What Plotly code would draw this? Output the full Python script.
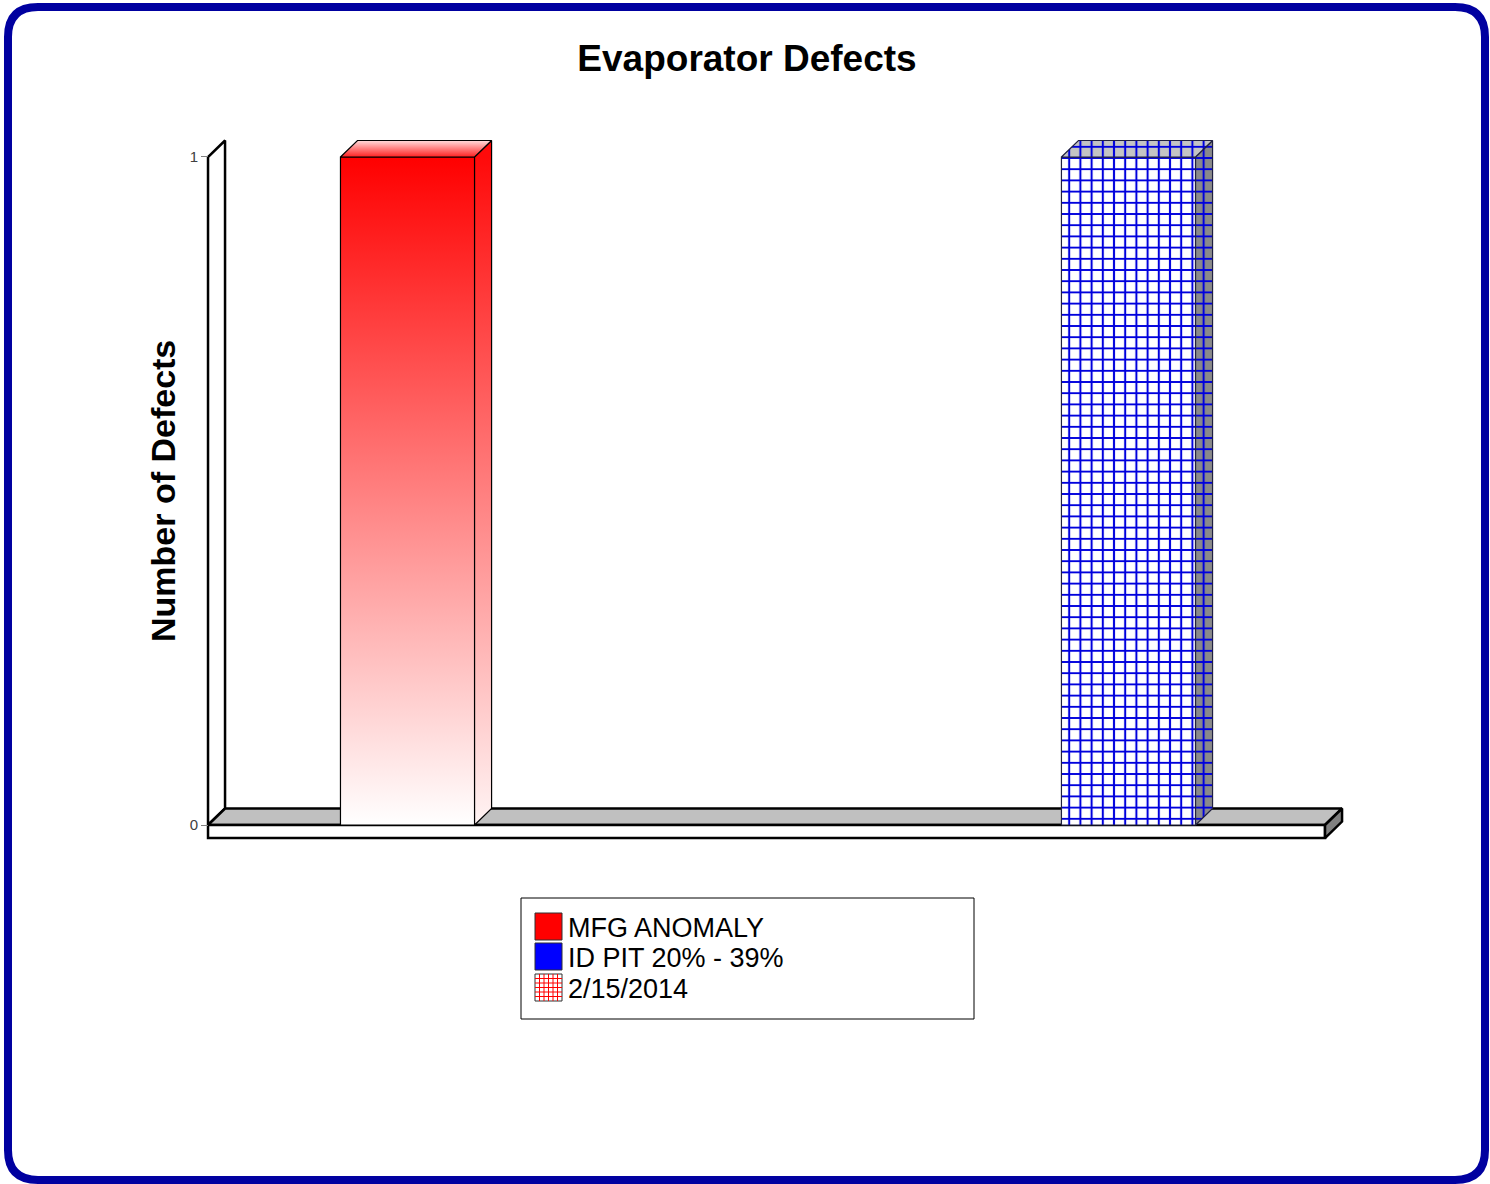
import plotly.graph_objects as go

# ---------------- data ----------------
CATEGORIES = ["MFG ANOMALY", "ID PIT 20% - 39%"]
DEFECTS = [1, 1]
DATE_LABEL = "2/15/2014"
Y_TICKS = [0, 1]
LEGEND_LABELS = ["MFG ANOMALY", "ID PIT 20% - 39%", DATE_LABEL]
TITLE = "Evaporator Defects"
Y_TITLE = "Number of Defects"

# ---------------- style / layout ----------------
W, H = 1490, 1184
ML, MR, MT, MB = 190, 130, 130, 334
PW, PH = W - ML - MR, H - MT - MB
XRANGE = [-0.3017, 1.3211]
YRANGE = [-0.0374, 1.0404]
FLOOR_X = [-0.2767, 1.2726]
DX, DY = 0.0236, 0.0247       # 3-D depth offsets in axis units
SLAB = 0.0195                 # floor thickness
BAR_W = 0.186
FONT = "Liberation Sans"


def pxx(px):
    return (px - ML) / PW


def pxy(py):
    return (H - MB - py) / PH


fig = go.Figure()


def poly(xs, ys, **kw):
    fig.add_trace(go.Scatter(x=list(xs) + [xs[0]], y=list(ys) + [ys[0]], mode="lines",
                             fill="toself", showlegend=False, hoverinfo="skip", **kw))


x0, x1 = FLOOR_X
top = max(Y_TICKS)
edge = dict(color="black", width=2.5)
# left wall
poly([x0, x0, x0 + DX, x0 + DX], [0, top, top + DY, DY], fillcolor="white", line=edge)
# floor top
poly([x0, x0 + DX, x1 + DX, x1], [0, DY, DY, 0], fillcolor="#c0c0c0", line=edge)
# floor front slab
poly([x0, x1, x1, x0], [0, 0, -SLAB, -SLAB], fillcolor="white", line=edge)
# floor right end
poly([x1, x1 + DX, x1 + DX, x1], [0, DY, DY - SLAB, -SLAB], fillcolor="#808080", line=edge)

# bars
for i, (cat, v) in enumerate(zip(CATEGORIES, DEFECTS)):
    xl, xr = i - BAR_W / 2, i + BAR_W / 2
    front = ([xl, xr, xr, xl], [0, 0, v, v])
    side = ([xr, xr + DX, xr + DX, xr], [0, DY, v + DY, v])
    topf = ([xl, xr, xr + DX, xl + DX], [v, v, v + DY, v + DY])
    if i == 0:
        ln = dict(color="black", width=1.2)
        poly(*front, line=ln, name=cat,
             fillgradient=dict(type="vertical", start=0, stop=v,
                               colorscale=[[0, "#ffffff"], [1, "#ff0000"]]))
        poly(*side, line=ln,
             fillgradient=dict(type="vertical", start=0, stop=v,
                               colorscale=[[0, "#fff4f4"], [1, "#ff0a0a"]]))
        poly(*topf, line=ln,
             fillgradient=dict(type="vertical", start=v, stop=v + DY,
                               colorscale=[[0, "#ff2020"], [1, "#ffdcdc"]]))
    else:
        ln = dict(color="#202040", width=1.2)
        pat = dict(shape="+", fgcolor="#0000dd", fgopacity=1, size=11.2, solidity=0.33)
        poly(*front, line=ln, name=cat, fillcolor="white", fillpattern=dict(bgcolor="white", **pat))
        poly(*side, line=ln, fillcolor="#8a8a8a", fillpattern=dict(bgcolor="#8a8a8a", **pat))
        poly(*topf, line=ln, fillcolor="#c4c4c4", fillpattern=dict(bgcolor="#c4c4c4", **pat))

shapes = []
annotations = []

# rounded blue frame
bx0, by0, bx1, by1, r = 8, 7, 1485, 1180, 30
pts = [("M", bx0 + r, by0), ("L", bx1 - r, by0), ("Q", bx1, by0, bx1, by0 + r),
       ("L", bx1, by1 - r), ("Q", bx1, by1, bx1 - r, by1), ("L", bx0 + r, by1),
       ("Q", bx0, by1, bx0, by1 - r), ("L", bx0, by0 + r), ("Q", bx0, by0, bx0 + r, by0)]
path = ""
for p in pts:
    cmd, coords = p[0], p[1:]
    conv = []
    for k in range(0, len(coords), 2):
        conv.append(f"{pxx(coords[k]):.5f},{pxy(coords[k + 1]):.5f}")
    path += cmd + " ".join(conv) + " "
shapes.append(dict(type="path", xref="paper", yref="paper", path=path + "Z",
                   line=dict(color="#0000a0", width=8)))

# legend box
shapes.append(dict(type="rect", xref="paper", yref="paper", x0=pxx(521), x1=pxx(974),
                   y0=pxy(898), y1=pxy(1019), line=dict(color="black", width=1)))
sw_top = [913, 943, 974]
sw_fill = ["#ff0000", "#0000ff", "white"]
for k, (lab, ty, fc) in enumerate(zip(LEGEND_LABELS, sw_top, sw_fill)):
    shapes.append(dict(type="rect", xref="paper", yref="paper", x0=pxx(535), x1=pxx(562),
                       y0=pxy(ty), y1=pxy(ty + 27), fillcolor=fc,
                       line=dict(color="#303030", width=1)))
    if k == 2:
        for g in range(1, 6):
            gx = 535 + g * 4.5
            gy = ty + g * 4.5
            shapes.append(dict(type="line", xref="paper", yref="paper", x0=pxx(gx), x1=pxx(gx),
                               y0=pxy(ty), y1=pxy(ty + 27), line=dict(color="#ff0000", width=1)))
            shapes.append(dict(type="line", xref="paper", yref="paper", x0=pxx(535), x1=pxx(562),
                               y0=pxy(gy), y1=pxy(gy), line=dict(color="#ff0000", width=1)))
    annotations.append(dict(xref="paper", yref="paper", x=pxx(566), y=pxy(ty + 14.5),
                            xanchor="left", yanchor="middle", text=lab, showarrow=False,
                            font=dict(family=FONT, size=27, color="black")))

# y-axis title
annotations.append(dict(xref="paper", yref="paper", x=pxx(163), y=pxy(491), text=f"<b>{Y_TITLE}</b>",
                        textangle=-90, showarrow=False, xanchor="center", yanchor="middle",
                        font=dict(family=FONT, size=34, color="black")))

fig.update_layout(
    width=W, height=H, autosize=False,
    margin=dict(l=ML, r=MR, t=MT, b=MB),
    paper_bgcolor="white", plot_bgcolor="white",
    showlegend=False, hovermode=False,
    title=dict(text=f"<b>{TITLE}</b>", x=747 / W, xref="container", xanchor="center",
               y=1 - 58 / H, yref="container", yanchor="middle",
               font=dict(family=FONT, size=37, color="black")),
    xaxis=dict(range=XRANGE, visible=False, fixedrange=True),
    yaxis=dict(range=YRANGE, tickvals=Y_TICKS, ticktext=[str(t) for t in Y_TICKS],
               anchor="free", position=pxx(208), showgrid=False, zeroline=False,
               showline=False, ticks="outside", ticklen=7, tickcolor="#808080",
               tickfont=dict(family=FONT, size=15, color="#404040"), fixedrange=True),
    shapes=shapes, annotations=annotations,
)

fig.write_html("out.html")
